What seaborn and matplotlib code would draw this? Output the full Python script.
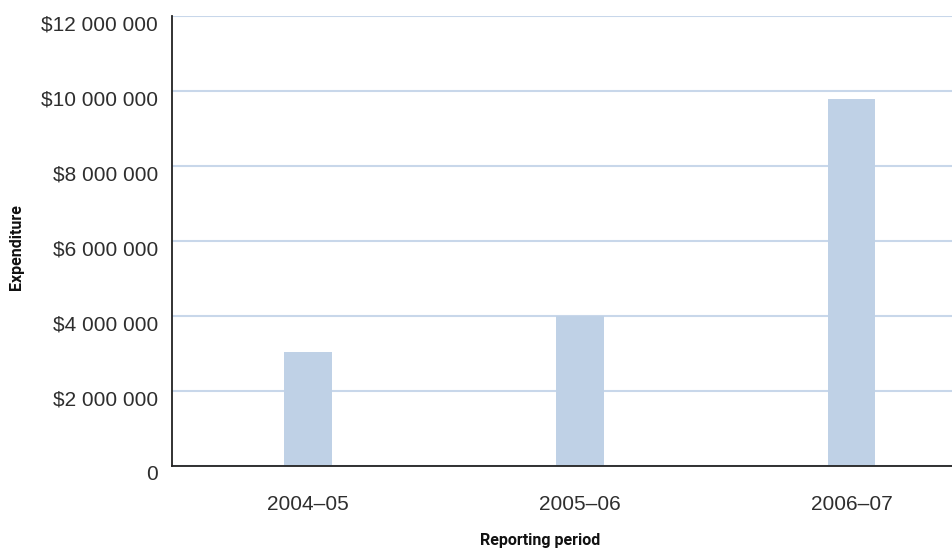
import matplotlib
matplotlib.use("Agg")
import matplotlib.pyplot as plt
import seaborn as sns
import pandas as pd
from matplotlib.ticker import FuncFormatter
from matplotlib.transforms import ScaledTranslation

periods = ["2004–05", "2005–06", "2006–07"]
expenditure = [3040000, 4000000, 9790000]
y_ticks = [0, 2000000, 4000000, 6000000, 8000000, 10000000, 12000000]

df = pd.DataFrame({"period": periods, "expenditure": expenditure})

sns.set_theme(style="white")
plt.rcParams['font.family'] = ['Liberation Sans', 'DejaVu Sans']

narrow = ["Roboto", "DejaVu Sans"]

fig = plt.figure(figsize=(9.53, 5.53), dpi=100)
ax = fig.add_axes([172/953, 1-466/553, (952-172)/953, (466-16)/553])

sns.barplot(data=df, x="period", y="expenditure", color="#BFD1E6",
            saturation=1, width=0.176, ax=ax, zorder=3, linewidth=0)

ax.set_ylim(0, 12000000)
ax.set_xlim(-0.5, 2.37)
ax.set_yticks(y_ticks)

def fmt(v, pos):
    if v == 0:
        return "0"
    return "$" + f"{int(v):,}".replace(",", " ")

ax.yaxis.set_major_formatter(FuncFormatter(fmt))
ax.grid(axis="y", color="#C8D7EA", linewidth=1.5, zorder=0)
ax.set_axisbelow(True)

for s in ["top", "right"]:
    ax.spines[s].set_visible(False)
for s in ["left", "bottom"]:
    ax.spines[s].set_color("#222222")
    ax.spines[s].set_linewidth(1.3)
    ax.spines[s].set_zorder(5)

ax.tick_params(axis="both", length=0, labelsize=15, colors="#2e2e2e")
ax.tick_params(axis="y", pad=10)
ax.tick_params(axis="x", pad=21)

offset = ScaledTranslation(0, -7 / 100, fig.dpi_scale_trans)
for lab in ax.get_yticklabels():
    lab.set_transform(lab.get_transform() + offset)

ax.set_ylabel("Expenditure", fontsize=11.5, fontweight="bold", family=narrow,
              color="#111111")
ax.set_xlabel("Reporting period", fontsize=11.5, fontweight="bold", family=narrow,
              color="#111111")
ax.yaxis.set_label_coords((17 - 172) / 780, 0.5 - 6 / 450)
ax.xaxis.set_label_coords((540 - 172) / 780, -(541 - 466) / 450)
ax.xaxis.label.set_va("center")
ax.yaxis.label.set_va("center")

fig.savefig("out.png", dpi=100)
